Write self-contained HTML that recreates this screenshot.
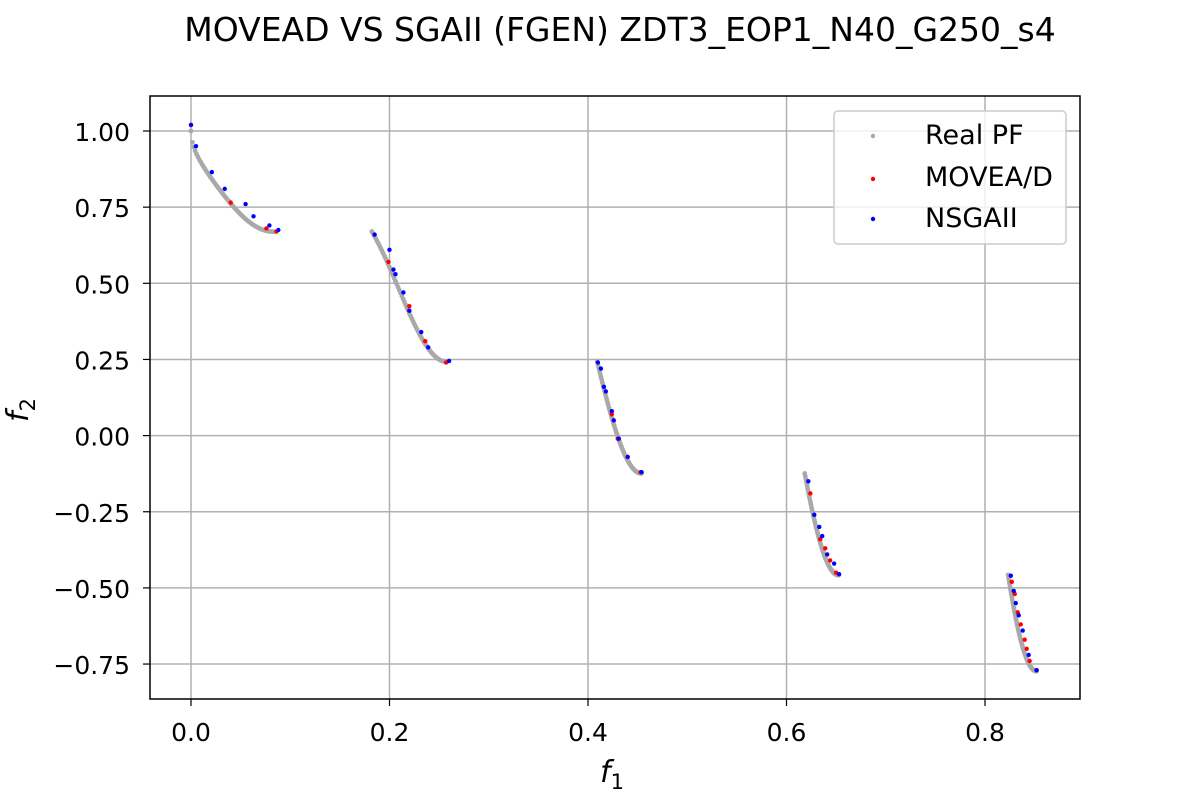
<!DOCTYPE html>
<html><head><meta charset="utf-8"><style>
body{margin:0;background:#fff}
text{font-family:"DejaVu Sans","Liberation Sans",sans-serif;fill:#000}
</style></head><body>
<svg id="chart" width="1200" height="800">
<rect width="1200" height="800" fill="#fff"/>
<text x="620" y="41" font-size="33" text-anchor="middle">MOVEAD VS SGAII (FGEN) ZDT3_EOP1_N40_G250_s4</text>
<g id="grid"></g><g id="marks"></g><g id="ticks"></g>
<rect x="150" y="96" width="930" height="603" fill="none" stroke="#000" stroke-width="1.5"/>
<text x="612" y="782" font-size="30" font-style="italic" text-anchor="middle">f<tspan font-size="21" dy="7" font-style="normal">1</tspan></text>
<text transform="translate(28,410) rotate(-90)" font-size="30" font-style="italic" text-anchor="middle">f<tspan font-size="21" dy="7" font-style="normal">2</tspan></text>
<g>
<rect x="834" y="111" width="232" height="133" rx="4" fill="#fff" fill-opacity="0.8" stroke="#ccc" stroke-width="1.5"/>
<circle cx="873" cy="136" r="2.2" fill="#a9a9a9"/>
<text x="925" y="144" font-size="27">Real PF</text>
<circle cx="873" cy="179" r="2.2" fill="#f00"/>
<text x="925" y="186" font-size="27">MOVEA/D</text>
<circle cx="873" cy="219" r="2.2" fill="#00f"/>
<text x="925" y="227" font-size="27">NSGAII</text>
</g>
</svg>
<script>
const xTicks=[0,0.2,0.4,0.6,0.8];
const xTickLabels=["0.0","0.2","0.4","0.6","0.8"];
const yTicks=[1,0.75,0.5,0.25,0,-0.25,-0.5,-0.75];
const yTickLabels=["1.00","0.75","0.50","0.25","0.00","\u22120.25","\u22120.50","\u22120.75"];
const pfSegments=[[0,0.083],[0.1822,0.2578],[0.4093,0.4539],[0.6184,0.6525],[0.8233,0.8518]];
const moveadF1=[0,0.04,0.076,0.086,0.199,0.22,0.236,0.257,0.424,0.43,0.44,0.453,0.624,0.634,0.639,0.644,0.65,0.827,0.83,0.833,0.836,0.84,0.842,0.845,0.852];
const moveadF2=[1.02,0.765,0.68,0.67,0.57,0.425,0.31,0.24,0.07,-0.01,-0.07,-0.12,-0.19,-0.34,-0.37,-0.41,-0.45,-0.48,-0.52,-0.58,-0.62,-0.67,-0.7,-0.74,-0.77];
const nsgaF1=[0,0.005,0.021,0.034,0.055,0.063,0.079,0.088,0.185,0.2,0.204,0.206,0.214,0.22,0.232,0.239,0.26,0.41,0.413,0.416,0.418,0.424,0.426,0.431,0.44,0.454,0.622,0.628,0.633,0.636,0.641,0.648,0.653,0.826,0.829,0.831,0.834,0.838,0.844,0.852];
const nsgaF2=[1.02,0.95,0.865,0.81,0.76,0.72,0.69,0.675,0.66,0.61,0.545,0.53,0.47,0.41,0.34,0.29,0.245,0.24,0.22,0.16,0.145,0.08,0.05,-0.01,-0.07,-0.12,-0.15,-0.26,-0.3,-0.33,-0.39,-0.42,-0.455,-0.46,-0.51,-0.55,-0.59,-0.64,-0.72,-0.77];
const X=v=>191+v*992.5, Y=v=>435.6-v*304.6;
const NS="http://www.w3.org/2000/svg";
function mk(p,tag,a){const e=document.createElementNS(NS,tag);for(const k in a)e.setAttribute(k,a[k]);p.appendChild(e);return e;}
const grid=document.getElementById('grid'),ticks=document.getElementById('ticks'),marks=document.getElementById('marks');
xTicks.forEach((t,i)=>{
 const g=mk(grid,'line',{x1:X(t),x2:X(t),y1:96,y2:699,stroke:'#b0b0b0','stroke-width':1.5});
 
 
 const tk=mk(ticks,'line',{x1:X(t),x2:X(t),y1:699,y2:706,stroke:'#000','stroke-width':1.2});
 
 
 const tx=mk(ticks,'text',{x:X(t),y:741,'font-size':25,'text-anchor':'middle'});tx.textContent=xTickLabels[i];
 
 
});
yTicks.forEach((t,i)=>{
 const g=mk(grid,'line',{x1:150,x2:1080,y1:Y(t),y2:Y(t),stroke:'#b0b0b0','stroke-width':1.5});
 
 
 const tk=mk(ticks,'line',{x1:143,x2:150,y1:Y(t),y2:Y(t),stroke:'#000','stroke-width':1.2});
 
 
 const tx=mk(ticks,'text',{x:130,y:Y(t)+10,'font-size':25,'text-anchor':'end'});tx.textContent=yTickLabels[i];
 
 
});
pfSegments.forEach(s=>{
 for(let k=0;k<=60;k++){const f=s[0]+(s[1]-s[0])*k/60;const f2=1-Math.sqrt(f)-f*Math.sin(10*Math.PI*f);
  const c=mk(marks,'circle',{cx:X(f),cy:Y(f2),r:2.4,fill:'#a9a9a9'});
  
  }
});
moveadF1.forEach((f,i)=>{const c=mk(marks,'circle',{cx:X(f),cy:Y(moveadF2[i]),r:2.2,fill:'#f00'});
 
 });
nsgaF1.forEach((f,i)=>{const c=mk(marks,'circle',{cx:X(f),cy:Y(nsgaF2[i]),r:2.2,fill:'#00f'});
 
 });
</script>
</body></html>
